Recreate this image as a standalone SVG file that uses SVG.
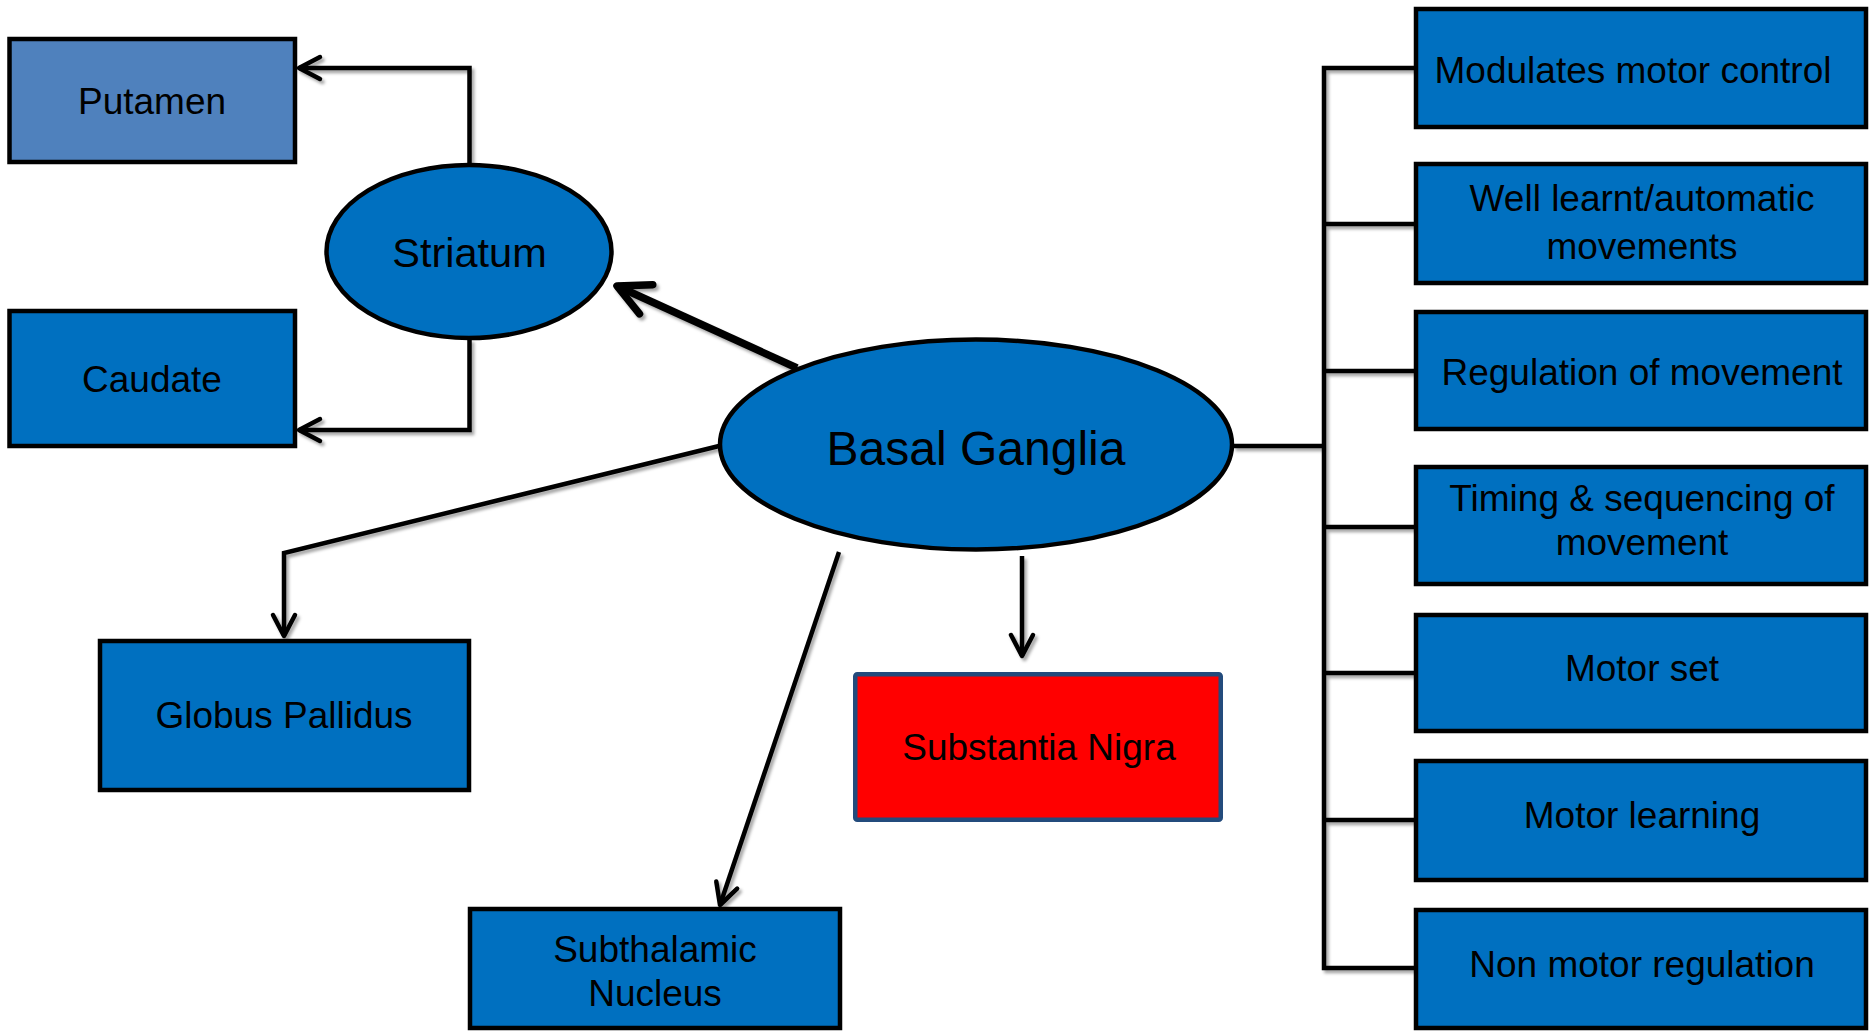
<svg xmlns="http://www.w3.org/2000/svg" width="1870" height="1031" viewBox="0 0 1870 1031">
  <defs>
    <style>
      .box { fill: #0070C0; stroke: #000; stroke-width: 4.5; }
      .light { fill: #4F81BD; }
      .red { fill: #FF0000; stroke: #234B7C; stroke-width: 4.5; }
      .ell { fill: #0070C0; stroke: #000; stroke-width: 4.5; }
      .t { font-family: "Liberation Sans", Arial, sans-serif; font-size: 37px; fill: #000; text-anchor: middle; }
      .conn { fill: none; stroke: #000; stroke-width: 4.5; stroke-linejoin: miter; }
      .thick { stroke-width: 7.5; }
    </style>
    <filter id="sh" x="-10%" y="-10%" width="130%" height="130%">
      <feDropShadow dx="2.5" dy="3" stdDeviation="1.8" flood-color="#000" flood-opacity="0.35"/>
    </filter>
    <marker id="arr" markerUnits="userSpaceOnUse" viewBox="-26 -16 30 32" markerWidth="30" markerHeight="32" refX="0" refY="0" orient="auto" overflow="visible">
      <path d="M -21 -11 L 0 0 L -21 11" fill="none" stroke="#000" stroke-width="4.5" stroke-linecap="round" stroke-linejoin="round"/>
    </marker>
    <marker id="arrBig" markerUnits="userSpaceOnUse" viewBox="-38 -22 44 44" markerWidth="44" markerHeight="44" refX="0" refY="0" orient="auto" overflow="visible">
      <path d="M -32 -16 L 0 0 L -32 16" fill="none" stroke="#000" stroke-width="7.5" stroke-linecap="round" stroke-linejoin="round"/>
    </marker>
  </defs>
  <rect width="1870" height="1031" fill="#fff"/>

  <g id="connectors" filter="url(#sh)">
    <path class="conn" d="M469.5 165 V68 H299" marker-end="url(#arr)"/>
    <path class="conn" d="M469.5 339 V430 H299" marker-end="url(#arr)"/>
    <path class="conn thick" d="M797 368 L617 286" marker-end="url(#arrBig)"/>
    <path class="conn" d="M719 446 L284 553 V636" marker-end="url(#arr)"/>
    <path class="conn" d="M839 552 L720 905" marker-end="url(#arr)"/>
    <path class="conn" d="M1022 556 V656" marker-end="url(#arr)"/>
    <path class="conn" d="M1233 446 H1324"/>
    <path class="conn" d="M1416 68 H1324 V968 H1416"/>
    <path class="conn" d="M1324 224 H1416 M1324 371 H1416 M1324 527 H1416 M1324 673 H1416 M1324 820 H1416"/>
  </g>

  <g id="putamen">
    <rect class="box light" x="9.5" y="39" width="285.5" height="123"/>
    <text class="t" x="152" y="114">Putamen</text>
  </g>
  <g id="caudate">
    <rect class="box" x="9.5" y="311" width="285.5" height="135"/>
    <text class="t" x="152" y="392">Caudate</text>
  </g>
  <g id="striatum">
    <ellipse class="ell" cx="469" cy="251.5" rx="142.5" ry="86.5"/>
    <text class="t" x="469.5" y="267" style="font-size:41.5px">Striatum</text>
  </g>
  <g id="basal-ganglia">
    <ellipse class="ell" cx="976" cy="444.5" rx="256" ry="105"/>
    <text class="t" x="976" y="465" style="font-size:48px">Basal Ganglia</text>
  </g>
  <g id="globus-pallidus">
    <rect class="box" x="100" y="641" width="369" height="149"/>
    <text class="t" x="284" y="728">Globus Pallidus</text>
  </g>
  <g id="subthalamic-nucleus">
    <rect class="box" x="470" y="909" width="370" height="119"/>
    <text class="t" x="655" y="962">Subthalamic</text>
    <text class="t" x="655" y="1006">Nucleus</text>
  </g>
  <g id="substantia-nigra">
    <rect class="red" x="855.25" y="674.25" width="365.5" height="145.5" rx="2"/>
    <text class="t" x="1039" y="760">Substantia Nigra</text>
  </g>

  <g id="modulates">
    <rect class="box" x="1416" y="9" width="450" height="118"/>
    <text class="t" x="1633" y="83">Modulates motor control</text>
  </g>
  <g id="well-learnt">
    <rect class="box" x="1416" y="164" width="450" height="119"/>
    <text class="t" x="1642" y="211">Well learnt/automatic</text>
    <text class="t" x="1642" y="259">movements</text>
  </g>
  <g id="regulation">
    <rect class="box" x="1416" y="312" width="450" height="117"/>
    <text class="t" x="1642" y="385">Regulation of movement</text>
  </g>
  <g id="timing">
    <rect class="box" x="1416" y="467" width="450" height="117"/>
    <text class="t" x="1642" y="511">Timing &amp; sequencing of</text>
    <text class="t" x="1642" y="555">movement</text>
  </g>
  <g id="motor-set">
    <rect class="box" x="1416" y="615" width="450" height="116"/>
    <text class="t" x="1642" y="681">Motor set</text>
  </g>
  <g id="motor-learning">
    <rect class="box" x="1416" y="761" width="450" height="119"/>
    <text class="t" x="1642" y="828">Motor learning</text>
  </g>
  <g id="non-motor">
    <rect class="box" x="1416" y="910" width="450" height="118"/>
    <text class="t" x="1642" y="977">Non motor regulation</text>
  </g>
</svg>
